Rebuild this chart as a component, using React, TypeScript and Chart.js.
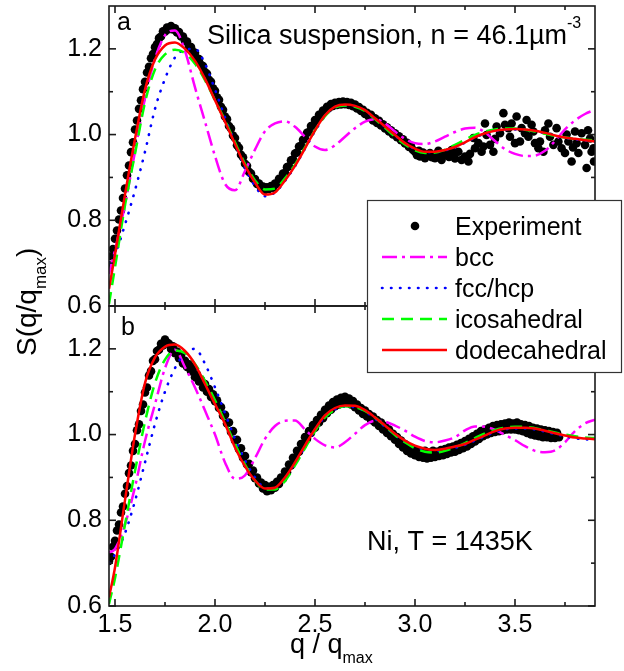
import React, { useEffect, useRef } from 'react';
import { Chart, registerables } from 'chart.js';

Chart.register(...registerables);

const FONT = "'Liberation Sans', Arial, Helvetica, sans-serif";

// ---------- axes ----------
const xMajor = [1.5, 2.0, 2.5, 3.0, 3.5];
const xMinor = [1.75, 2.25, 2.75, 3.25, 3.75];
const yMajor = [0.6, 0.8, 1.0, 1.2];
const yMinor = [0.7, 0.9, 1.1];

// ---------- labels ----------
const seriesNames = ['Experiment', 'bcc', 'fcc/hcp', 'icosahedral', 'dodecahedral'];
const panelTags = ['a', 'b'];
const titleA = 'Silica suspension, n = 46.1µm';
const titleASup = '-3';
const titleB = 'Ni, T = 1435K';

// ---------- model curves (q grid) ----------
const qGrid = [1.47, 1.50, 1.55, 1.60, 1.65, 1.70, 1.75, 1.80, 1.85, 1.90, 1.95, 2.00, 2.05, 2.10, 2.15, 2.20, 2.25, 2.30, 2.35, 2.40, 2.45, 2.50, 2.55, 2.60, 2.65, 2.70, 2.75, 2.80, 2.85, 2.90, 2.95, 3.00, 3.05, 3.10, 3.15, 3.20, 3.25, 3.30, 3.35, 3.40, 3.45, 3.50, 3.55, 3.60, 3.65, 3.70, 3.75, 3.80, 3.85, 3.90];

// panel a
const bccA = [0.675, 0.73, 0.837, 0.96, 1.085, 1.177, 1.232, 1.243, 1.195, 1.11, 1.03, 0.95, 0.885, 0.87, 0.915, 0.965, 1.008, 1.026, 1.031, 1.018, 0.995, 0.972, 0.964, 0.975, 0.995, 1.015, 1.03, 1.036, 1.026, 1.007, 0.99, 0.98, 0.978, 0.984, 0.995, 1.006, 1.014, 1.016, 1.005, 0.985, 0.966, 0.955, 0.95, 0.951, 0.962, 0.985, 1.012, 1.033, 1.048, 1.058];
const fccA = [0.70, 0.72, 0.79, 0.87, 0.96, 1.06, 1.13, 1.18, 1.198, 1.20, 1.165, 1.105, 1.04, 0.98, 0.922, 0.88, 0.856, 0.865, 0.892, 0.926, 0.967, 1.008, 1.043, 1.063, 1.068, 1.066, 1.056, 1.037, 1.018, 0.998, 0.979, 0.966, 0.959, 0.959, 0.963, 0.97, 0.981, 0.993, 1.002, 1.008, 1.011, 1.012, 1.011, 1.008, 1.003, 0.997, 0.992, 0.989, 0.986, 0.983];
const icoA = [0.605, 0.69, 0.835, 0.955, 1.075, 1.152, 1.187, 1.198, 1.19, 1.165, 1.127, 1.08, 1.033, 0.982, 0.932, 0.893, 0.872, 0.874, 0.898, 0.93, 0.97, 1.01, 1.043, 1.063, 1.068, 1.065, 1.055, 1.036, 1.016, 0.995, 0.977, 0.963, 0.957, 0.958, 0.965, 0.976, 0.988, 0.999, 1.007, 1.012, 1.014, 1.014, 1.011, 1.007, 1.002, 0.997, 0.993, 0.99, 0.988, 0.986];
const dodA = [0.64, 0.72, 0.86, 0.99, 1.105, 1.175, 1.208, 1.215, 1.20, 1.172, 1.13, 1.08, 1.03, 0.978, 0.928, 0.888, 0.86, 0.865, 0.893, 0.927, 0.968, 1.01, 1.045, 1.065, 1.07, 1.067, 1.057, 1.038, 1.019, 0.999, 0.98, 0.967, 0.96, 0.96, 0.964, 0.971, 0.982, 0.994, 1.003, 1.009, 1.012, 1.013, 1.012, 1.009, 1.004, 0.998, 0.993, 0.99, 0.987, 0.984];

// panel b
const bccB = [0.725, 0.733, 0.79, 0.878, 0.985, 1.071, 1.155, 1.198, 1.157, 1.11, 1.056, 1.0, 0.935, 0.897, 0.905, 0.945, 0.99, 1.02, 1.032, 1.033, 1.012, 0.99, 0.975, 0.97, 0.982, 1.002, 1.022, 1.032, 1.03, 1.021, 1.009, 0.995, 0.985, 0.982, 0.986, 0.994, 1.01, 1.019, 1.018, 1.011, 0.999, 0.987, 0.973, 0.962, 0.959, 0.963, 0.982, 1.008, 1.026, 1.035];
const fccB = [0.70, 0.72, 0.77, 0.845, 0.935, 1.025, 1.10, 1.155, 1.19, 1.20, 1.165, 1.11, 1.05, 0.99, 0.94, 0.9, 0.876, 0.874, 0.898, 0.932, 0.972, 1.01, 1.042, 1.059, 1.065, 1.064, 1.054, 1.037, 1.018, 0.999, 0.983, 0.971, 0.964, 0.961, 0.964, 0.969, 0.976, 0.986, 0.996, 1.006, 1.012, 1.014, 1.014, 1.012, 1.007, 1.001, 0.996, 0.991, 0.989, 0.987];
const icoB = [0.605, 0.665, 0.79, 0.915, 1.03, 1.12, 1.175, 1.196, 1.19, 1.165, 1.125, 1.08, 1.03, 0.978, 0.93, 0.893, 0.872, 0.872, 0.892, 0.928, 0.968, 1.008, 1.04, 1.058, 1.066, 1.064, 1.055, 1.04, 1.02, 0.999, 0.982, 0.968, 0.96, 0.958, 0.962, 0.97, 0.98, 0.992, 1.003, 1.011, 1.016, 1.018, 1.018, 1.015, 1.01, 1.005, 1.0, 0.996, 0.993, 0.992];
const dodB = [0.62, 0.69, 0.847, 1.0, 1.12, 1.18, 1.205, 1.21, 1.195, 1.164, 1.118, 1.071, 1.025, 0.97, 0.926, 0.893, 0.874, 0.876, 0.9, 0.935, 0.975, 1.013, 1.045, 1.062, 1.068, 1.067, 1.057, 1.04, 1.021, 1.002, 0.986, 0.974, 0.967, 0.964, 0.967, 0.972, 0.978, 0.988, 0.998, 1.008, 1.014, 1.016, 1.016, 1.014, 1.009, 1.003, 0.998, 0.993, 0.991, 0.989];

// ---------- experimental points [q, S] ----------
const expA = [
  [1.47, 0.695], [1.48, 0.716], [1.49, 0.733], [1.50, 0.757], [1.51, 0.776], [1.52, 0.802], [1.53, 0.823], [1.54, 0.852], [1.55, 0.874], [1.56, 0.905],
  [1.57, 0.928], [1.58, 0.959], [1.59, 0.982], [1.60, 1.012], [1.61, 1.033], [1.62, 1.06], [1.63, 1.08], [1.64, 1.106], [1.65, 1.123], [1.66, 1.145],
  [1.67, 1.158], [1.68, 1.178], [1.69, 1.188], [1.70, 1.204], [1.71, 1.211], [1.72, 1.225], [1.73, 1.229], [1.74, 1.241], [1.75, 1.24], [1.76, 1.25],
  [1.77, 1.246], [1.78, 1.253], [1.79, 1.245], [1.80, 1.248], [1.81, 1.238], [1.82, 1.239], [1.83, 1.229], [1.84, 1.229], [1.85, 1.218], [1.86, 1.217],
  [1.87, 1.206], [1.88, 1.204], [1.89, 1.193], [1.90, 1.191], [1.91, 1.178], [1.92, 1.176], [1.93, 1.163], [1.94, 1.16], [1.95, 1.146], [1.96, 1.142],
  [1.97, 1.128], [1.98, 1.123], [1.99, 1.108], [2.00, 1.102], [2.01, 1.087], [2.02, 1.081], [2.03, 1.065], [2.04, 1.058], [2.05, 1.042], [2.06, 1.036],
  [2.07, 1.02], [2.08, 1.014], [2.09, 0.998], [2.10, 0.992], [2.11, 0.975], [2.12, 0.969], [2.13, 0.953], [2.14, 0.947], [2.15, 0.932], [2.16, 0.927],
  [2.17, 0.913], [2.18, 0.909], [2.19, 0.897], [2.20, 0.896], [2.21, 0.885], [2.22, 0.886], [2.23, 0.876], [2.24, 0.879], [2.25, 0.871], [2.26, 0.877],
  [2.27, 0.873], [2.28, 0.88], [2.29, 0.876], [2.30, 0.886], [2.31, 0.885], [2.32, 0.897], [2.33, 0.897], [2.34, 0.909], [2.35, 0.91], [2.36, 0.924],
  [2.37, 0.926], [2.38, 0.94], [2.39, 0.942], [2.40, 0.956], [2.41, 0.958], [2.42, 0.972], [2.43, 0.974], [2.44, 0.988], [2.45, 0.99], [2.46, 1.004],
  [2.47, 1.006], [2.48, 1.02], [2.49, 1.021], [2.50, 1.034], [2.51, 1.034], [2.52, 1.046], [2.53, 1.045], [2.54, 1.056], [2.55, 1.055], [2.56, 1.065],
  [2.57, 1.062], [2.58, 1.071], [2.59, 1.067], [2.60, 1.074], [2.61, 1.069], [2.62, 1.076], [2.63, 1.07], [2.64, 1.077], [2.65, 1.071], [2.66, 1.076],
  [2.67, 1.069], [2.68, 1.074], [2.69, 1.066], [2.70, 1.07], [2.71, 1.061], [2.72, 1.064], [2.73, 1.055], [2.74, 1.058], [2.75, 1.048], [2.76, 1.051],
  [2.77, 1.041], [2.78, 1.046], [2.79, 1.033], [2.80, 1.038], [2.81, 1.027], [2.82, 1.032], [2.83, 1.021], [2.84, 1.024], [2.85, 1.014], [2.86, 1.017],
  [2.87, 1.007], [2.88, 1.01], [2.89, 1.0], [2.90, 1.003], [2.91, 0.994], [2.92, 0.996], [2.93, 0.987], [2.94, 0.989], [2.95, 0.979], [2.96, 0.981],
  [2.97, 0.971], [2.98, 0.973], [2.99, 0.964],
  [3.00, 0.960], [3.01, 0.952], [3.02, 0.962], [3.025, 0.949], [3.04, 0.958], [3.05, 0.945], [3.06, 0.953], [3.075, 0.957], [3.085, 0.947], [3.10, 0.945],
  [3.11, 0.955], [3.117, 0.962], [3.125, 0.950], [3.133, 0.941], [3.145, 0.952], [3.158, 0.957], [3.17, 0.948], [3.183, 0.964], [3.192, 0.953], [3.20, 0.944],
  [3.217, 0.960], [3.233, 0.941], [3.25, 0.949], [3.267, 0.937], [3.275, 0.955], [3.292, 0.992], [3.30, 0.968], [3.317, 0.980], [3.333, 0.960], [3.342, 0.972],
  [3.35, 1.026], [3.358, 0.999], [3.375, 0.976], [3.392, 0.960], [3.40, 0.990], [3.408, 1.019], [3.425, 1.003], [3.442, 1.050], [3.45, 1.023], [3.467, 1.015],
  [3.475, 0.995], [3.483, 1.026], [3.50, 0.980], [3.508, 1.042], [3.525, 0.984], [3.533, 1.015], [3.55, 1.003], [3.558, 1.034], [3.567, 0.995], [3.583, 1.023],
  [3.592, 1.007], [3.60, 0.980], [3.617, 0.968], [3.625, 0.984], [3.642, 0.960], [3.65, 1.010], [3.667, 1.026], [3.675, 0.995], [3.692, 0.976], [3.708, 1.015],
  [3.717, 0.984], [3.733, 0.968], [3.75, 0.957], [3.758, 1.000], [3.767, 0.984], [3.783, 0.937], [3.79, 0.970], [3.80, 1.007], [3.808, 0.980], [3.817, 0.957],
  [3.833, 1.003], [3.85, 0.976], [3.858, 0.922], [3.865, 1.010], [3.875, 0.991], [3.883, 0.960], [3.892, 0.968], [3.895, 0.937],
];

const expB = [
  [1.47, 0.705], [1.48, 0.715], [1.49, 0.738], [1.50, 0.752], [1.51, 0.776], [1.52, 0.79], [1.53, 0.818], [1.54, 0.832], [1.55, 0.862], [1.56, 0.88],
  [1.57, 0.91], [1.58, 0.928], [1.59, 0.962], [1.60, 0.978], [1.61, 1.01], [1.62, 1.024], [1.63, 1.055], [1.64, 1.07], [1.65, 1.098], [1.66, 1.11],
  [1.67, 1.138], [1.68, 1.148], [1.69, 1.172], [1.70, 1.176], [1.71, 1.195], [1.72, 1.198], [1.73, 1.212], [1.74, 1.208], [1.75, 1.222], [1.76, 1.215],
  [1.77, 1.212], [1.78, 1.2], [1.79, 1.206], [1.80, 1.19], [1.81, 1.194], [1.82, 1.178], [1.83, 1.184], [1.84, 1.166], [1.85, 1.172], [1.86, 1.158],
  [1.87, 1.164], [1.88, 1.148], [1.89, 1.155], [1.90, 1.134], [1.91, 1.14], [1.92, 1.124], [1.93, 1.128], [1.94, 1.11], [1.95, 1.118], [1.96, 1.1],
  [1.97, 1.106], [1.98, 1.088], [1.99, 1.094], [2.00, 1.078], [2.01, 1.08], [2.02, 1.062], [2.03, 1.064], [2.04, 1.044], [2.05, 1.046], [2.06, 1.026],
  [2.07, 1.028], [2.08, 1.006], [2.09, 1.008], [2.10, 0.986], [2.11, 0.988], [2.12, 0.966], [2.13, 0.968], [2.14, 0.946], [2.15, 0.95], [2.16, 0.93],
  [2.17, 0.932], [2.18, 0.912], [2.19, 0.916], [2.20, 0.898], [2.21, 0.9], [2.22, 0.886], [2.23, 0.888], [2.24, 0.874], [2.25, 0.882], [2.26, 0.868],
  [2.27, 0.878], [2.28, 0.87], [2.29, 0.882], [2.30, 0.876], [2.31, 0.89], [2.32, 0.885], [2.33, 0.9], [2.34, 0.897], [2.35, 0.914], [2.36, 0.912],
  [2.37, 0.93], [2.38, 0.928], [2.39, 0.946], [2.40, 0.944], [2.41, 0.962], [2.42, 0.96], [2.43, 0.978], [2.44, 0.976], [2.45, 0.994], [2.46, 0.99],
  [2.47, 1.008], [2.48, 1.004], [2.49, 1.022], [2.50, 1.016], [2.51, 1.034], [2.52, 1.028], [2.53, 1.046], [2.54, 1.038], [2.55, 1.058], [2.56, 1.05],
  [2.57, 1.068], [2.58, 1.058], [2.59, 1.076], [2.60, 1.066], [2.61, 1.082], [2.62, 1.07], [2.63, 1.086], [2.64, 1.074], [2.65, 1.088], [2.66, 1.074],
  [2.67, 1.084], [2.68, 1.07], [2.69, 1.078], [2.70, 1.064], [2.71, 1.07], [2.72, 1.056], [2.73, 1.062], [2.74, 1.048], [2.75, 1.056], [2.76, 1.042],
  [2.77, 1.048], [2.78, 1.034], [2.79, 1.042], [2.80, 1.028], [2.81, 1.034], [2.82, 1.02], [2.83, 1.028], [2.84, 1.012], [2.85, 1.02], [2.86, 1.004],
  [2.87, 1.012], [2.88, 0.996], [2.89, 1.002], [2.90, 0.988], [2.91, 0.994], [2.92, 0.978], [2.93, 0.986], [2.94, 0.97], [2.95, 0.978], [2.96, 0.962],
  [2.97, 0.97], [2.98, 0.956], [2.99, 0.966], [3.00, 0.952], [3.01, 0.962], [3.02, 0.948], [3.03, 0.958], [3.04, 0.946], [3.05, 0.962], [3.06, 0.944],
  [3.07, 0.958], [3.08, 0.946], [3.09, 0.962], [3.10, 0.948], [3.11, 0.96], [3.12, 0.95], [3.13, 0.964], [3.14, 0.952], [3.15, 0.966], [3.16, 0.955],
  [3.17, 0.97], [3.18, 0.958], [3.19, 0.972], [3.20, 0.96], [3.21, 0.976], [3.22, 0.964], [3.23, 0.98], [3.24, 0.968], [3.25, 0.985], [3.26, 0.972],
  [3.27, 0.99], [3.28, 0.978], [3.29, 0.996], [3.30, 0.984], [3.31, 1.002], [3.32, 0.99], [3.33, 1.008], [3.34, 0.996], [3.35, 1.012], [3.36, 1.0],
  [3.37, 1.016], [3.38, 1.004], [3.39, 1.02], [3.40, 1.006], [3.41, 1.022], [3.42, 1.008], [3.43, 1.024], [3.44, 1.01], [3.45, 1.026], [3.46, 1.012],
  [3.47, 1.028], [3.48, 1.012], [3.49, 1.026], [3.50, 1.012], [3.51, 1.028], [3.52, 1.01], [3.53, 1.024], [3.54, 1.008], [3.55, 1.022], [3.56, 1.004],
  [3.57, 1.02], [3.58, 1.0], [3.59, 1.016], [3.60, 0.998], [3.61, 1.014], [3.62, 0.996], [3.63, 1.012], [3.64, 0.994], [3.65, 1.01], [3.66, 0.994],
  [3.67, 1.008], [3.68, 0.992], [3.69, 1.006], [3.70, 0.992], [3.71, 1.004], [3.72, 0.994],
];

// ---------- styles ----------
type LineStyle = { color: string; width: number; dash: number[]; cap: CanvasLineCap };
const stBcc: LineStyle = { color: '#ff00ff', width: 2.5, dash: [15, 5, 3, 5], cap: 'butt' };
const stFcc: LineStyle = { color: '#0000ff', width: 2.6, dash: [0.5, 8.5], cap: 'round' };
const stIco: LineStyle = { color: '#00ff00', width: 2.5, dash: [12, 7], cap: 'butt' };
const stDod: LineStyle = { color: '#ff0000', width: 2.5, dash: [], cap: 'butt' };
const DOT_R = 4.3;
const FRAME = '#1a1a1a';

function curve(vals: number[], st: LineStyle, axis: string, order: number, label: string) {
  return {
    label,
    data: qGrid.map((q, i) => ({ x: q, y: vals[i] })),
    yAxisID: axis,
    borderColor: st.color,
    backgroundColor: st.color,
    borderWidth: st.width,
    borderDash: st.dash,
    borderCapStyle: st.cap,
    pointRadius: 0,
    fill: false,
    cubicInterpolationMode: 'monotone',
    order,
  };
}

function dots(pairs: number[][], axis: string) {
  return {
    label: seriesNames[0],
    data: pairs.map(([x, y]) => ({ x, y })),
    yAxisID: axis,
    showLine: false,
    pointRadius: DOT_R,
    pointBackgroundColor: '#000',
    pointBorderColor: '#000',
    pointBorderWidth: 0,
    order: 10,
  };
}

function drawRich(ctx: CanvasRenderingContext2D, parts: { t: string; size: number; dy: number }[], x: number, y: number) {
  let cx = x;
  for (const p of parts) {
    ctx.font = `${p.size}px ${FONT}`;
    ctx.fillText(p.t, cx, y + p.dy);
    cx += ctx.measureText(p.t).width;
  }
}

const decor = {
  id: 'decor',
  afterDatasetsDraw(chart: any) {
    const ctx: CanvasRenderingContext2D = chart.ctx;
    const xs = chart.scales.x;
    ctx.save();
    ctx.strokeStyle = FRAME;
    ctx.lineWidth = 1.6;
    ctx.setLineDash([]);
    const seg = (x1: number, y1: number, x2: number, y2: number) => {
      ctx.beginPath();
      ctx.moveTo(x1, y1);
      ctx.lineTo(x2, y2);
      ctx.stroke();
    };
    for (const id of ['yA', 'yB']) {
      const ys = chart.scales[id];
      const L = xs.left, R = xs.right, T = ys.top, B = ys.bottom;
      ctx.strokeRect(L, T, R - L, B - T);
      xMajor.forEach((v) => { const p = xs.getPixelForValue(v); seg(p, B, p, B - 7); seg(p, T, p, T + 7); });
      xMinor.forEach((v) => { const p = xs.getPixelForValue(v); seg(p, B, p, B - 4); seg(p, T, p, T + 4); });
      yMajor.forEach((v) => { const p = ys.getPixelForValue(v); seg(L, p, L + 7, p); seg(R, p, R - 7, p); });
      yMinor.forEach((v) => { const p = ys.getPixelForValue(v); seg(L, p, L + 4, p); seg(R, p, R - 4, p); });
    }
    ctx.restore();
  },
  afterDraw(chart: any) {
    const ctx: CanvasRenderingContext2D = chart.ctx;
    const yA = chart.scales.yA;
    const yB = chart.scales.yB;
    const xs = chart.scales.x;
    ctx.save();
    ctx.fillStyle = '#000';
    ctx.textAlign = 'left';
    ctx.textBaseline = 'alphabetic';

    // panel tags
    ctx.font = `25px ${FONT}`;
    ctx.fillText(panelTags[0], xs.left + 8, yA.top + 24);
    ctx.fillText(panelTags[1], xs.left + 12, yB.top + 29);

    // annotations
    drawRich(ctx, [{ t: titleA, size: 27, dy: 0 }, { t: titleASup, size: 16, dy: -16 }], 207, yA.top + 38);
    drawRich(ctx, [{ t: titleB, size: 27, dy: 0 }], 367, yB.top + 244);

    // axis titles
    drawRich(ctx, [{ t: 'q / q', size: 27, dy: 0 }, { t: 'max', size: 16, dy: 10 }], 290, 653);
    ctx.save();
    ctx.translate(36, 356);
    ctx.rotate(-Math.PI / 2);
    drawRich(ctx, [{ t: 'S(q/q', size: 28, dy: 0 }, { t: 'max', size: 17, dy: 10 }, { t: ')', size: 28, dy: 0 }], 0, 0);
    ctx.restore();

    // legend
    const lx0 = 367, ly0 = 200, lx1 = 622, ly1 = 373;
    ctx.fillStyle = '#fff';
    ctx.fillRect(lx0, ly0, lx1 - lx0, ly1 - ly0);
    ctx.strokeStyle = '#333';
    ctx.lineWidth = 1.2;
    ctx.strokeRect(lx0 + 0.5, ly0 + 0.5, lx1 - lx0 - 1, ly1 - ly0 - 1);
    const styles = [null, stBcc, stFcc, stIco, stDod];
    seriesNames.forEach((name, i) => {
      const base = 235 + i * 31;
      const cy = base - 9;
      const st = styles[i];
      if (!st) {
        ctx.fillStyle = '#000';
        ctx.beginPath();
        ctx.arc(415, cy, DOT_R, 0, Math.PI * 2);
        ctx.fill();
      } else {
        ctx.strokeStyle = st.color;
        ctx.lineWidth = st.width;
        ctx.lineCap = st.cap;
        ctx.setLineDash(st.dash);
        ctx.beginPath();
        ctx.moveTo(382, cy);
        ctx.lineTo(447, cy);
        ctx.stroke();
        ctx.setLineDash([]);
        ctx.lineCap = 'butt';
      }
      ctx.fillStyle = '#000';
      ctx.font = `25px ${FONT}`;
      ctx.fillText(name, 455, base);
    });
    ctx.restore();
  },
};

function yAxis(weight: number) {
  return {
    type: 'linear',
    position: 'left',
    stack: 'panels',
    stackWeight: 1,
    weight,
    min: 0.6,
    max: 1.3,
    offset: false,
    grid: { display: false, drawTicks: false, drawOnChartArea: false },
    border: { display: false },
    ticks: {
      color: '#000',
      font: { family: FONT, size: 25 },
      padding: 7,
      autoSkip: false,
      callback: (v: any) => Number(v).toFixed(1),
    },
    afterBuildTicks: (s: any) => { s.ticks = yMajor.map((v) => ({ value: v })); },
    afterFit: (s: any) => { s.width = 109; s.paddingTop = 0; s.paddingBottom = 0; },
  };
}

export default function App() {
  const ref = useRef<HTMLCanvasElement | null>(null);
  useEffect(() => {
    if (!ref.current) return;
    const datasets: any[] = [
      curve(dodA, stDod, 'yA', 0, seriesNames[4]),
      curve(icoA, stIco, 'yA', 1, seriesNames[3]),
      curve(fccA, stFcc, 'yA', 2, seriesNames[2]),
      curve(bccA, stBcc, 'yA', 3, seriesNames[1]),
      dots(expA, 'yA'),
      curve(dodB, stDod, 'yB', 0, seriesNames[4]),
      curve(icoB, stIco, 'yB', 1, seriesNames[3]),
      curve(fccB, stFcc, 'yB', 2, seriesNames[2]),
      curve(bccB, stBcc, 'yB', 3, seriesNames[1]),
      dots(expB, 'yB'),
    ];
    const chart = new Chart(ref.current, {
      type: 'line',
      data: { datasets },
      options: {
        responsive: false,
        animation: false,
        events: [],
        layout: { padding: { left: 0, right: 29, top: 6, bottom: 0 } },
        plugins: { legend: { display: false }, tooltip: { enabled: false }, title: { display: false } },
        scales: {
          x: {
            type: 'linear',
            position: 'bottom',
            min: 1.47,
            max: 3.9,
            grid: { display: false, drawTicks: false, drawOnChartArea: false },
            border: { display: false },
            ticks: {
              color: '#000',
              font: { family: FONT, size: 25 },
              padding: 4,
              autoSkip: false,
              maxRotation: 0,
              callback: (v: any) => Number(v).toFixed(1),
            },
            afterBuildTicks: (s: any) => { s.ticks = xMajor.map((v) => ({ value: v })); },
            afterFit: (s: any) => { s.height = 65; s.paddingLeft = 0; s.paddingRight = 0; },
          },
          yA: yAxis(1),
          yB: yAxis(0),
        } as any,
      },
      plugins: [decor],
    } as any);
    return () => chart.destroy();
  }, []);
  return (
    <div style={{ position: 'absolute', left: 0, top: 0, width: 624, height: 671, background: '#fff' }}>
      <canvas ref={ref} width={624} height={671} style={{ display: 'block' }} />
    </div>
  );
}
